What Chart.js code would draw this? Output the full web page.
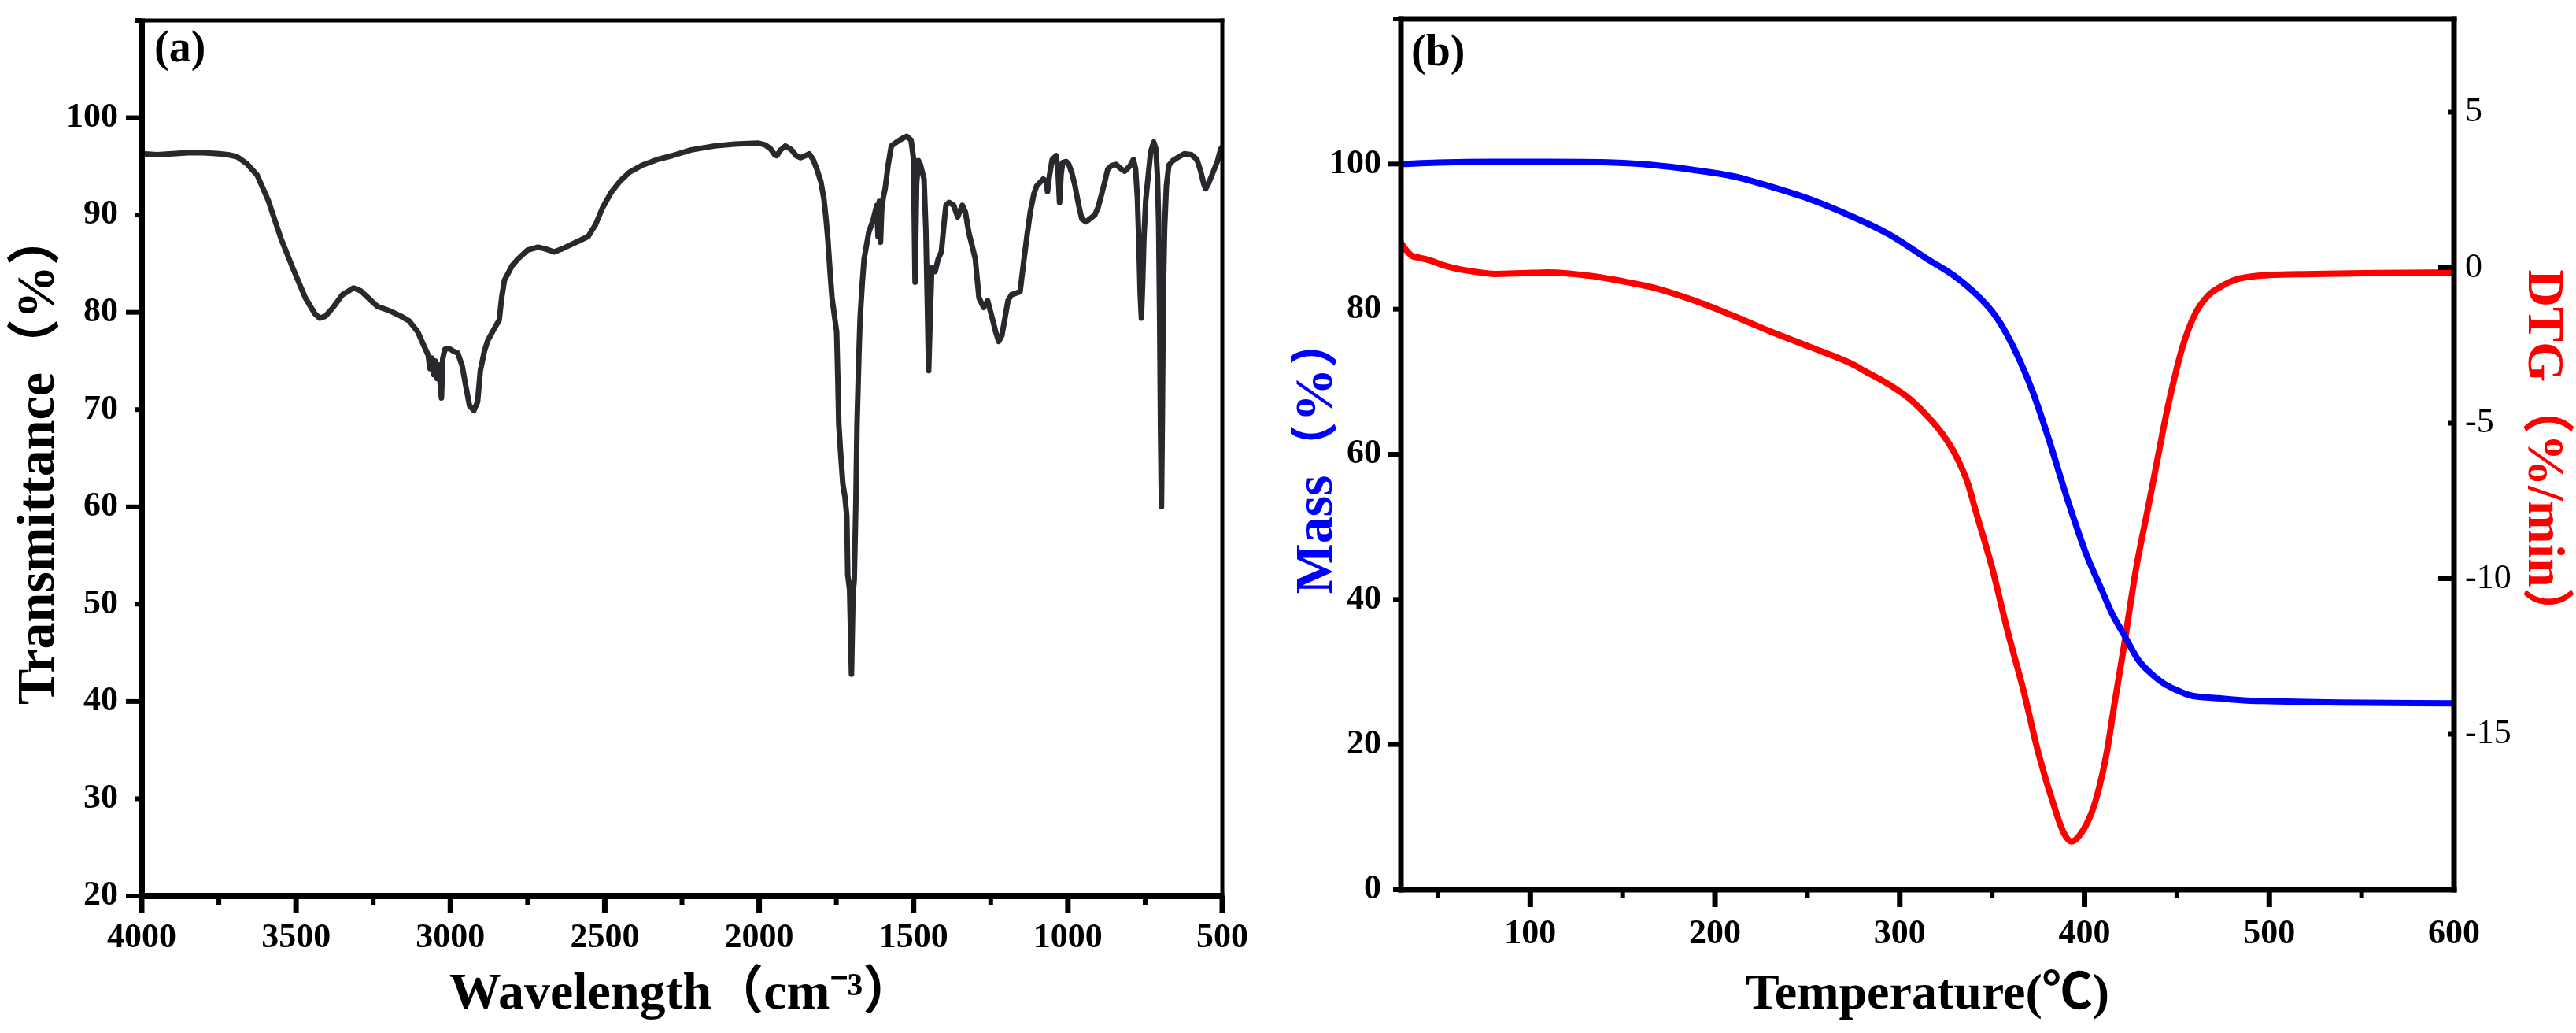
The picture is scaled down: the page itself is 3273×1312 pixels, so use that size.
<!DOCTYPE html>
<html>
<head>
<meta charset="utf-8">
<script src="https://cdn.jsdelivr.net/npm/chart.js@4.4.1/dist/chart.umd.min.js"></script>
<style>
  html, body { margin: 0; padding: 0; background: #fff; }
  #wrap { position: relative; width: 3273px; height: 1312px; overflow: hidden; background: #fff; }
  canvas { position: absolute; top: 0; }
  #ca, #oa { left: 0; }
  #cb, #ob { left: 1640px; }
  #oa, #ob { pointer-events: none; }
</style>
</head>
<body>
<div id="wrap">
  <canvas id="ca" width="1640" height="1312"></canvas>
  <canvas id="cb" width="1633" height="1312"></canvas>
  <canvas id="oa" width="1640" height="1312"></canvas>
  <canvas id="ob" width="1633" height="1312"></canvas>
</div>
<script>
// ---------------- Panel (a): FTIR ----------------
const ftirWavenumber = [4000,3950,3900,3850,3800,3750,3720,3692,3660,3626,3590,3549,3510,3470,3440,3424,3405,3380,3350,3314,3290,3260,3236,3200,3160,3133,3106,3085,3072,3066,3060,3054,3049,3043,3038,3033,3029,3025,3018,3005,2990,2976,2962,2950,2938,2924,2912,2903,2890,2879,2860,2842,2834,2825,2800,2781,2750,2716,2690,2664,2640,2613,2580,2554,2530,2508,2480,2450,2420,2380,2330,2282,2220,2144,2080,2004,1980,1963,1950,1943,1930,1915,1895,1880,1866,1850,1838,1825,1813,1800,1790,1783,1777,1770,1764,1756,1749,1745,1742,1736,1729,1722,1716,1713,1707,1701,1696,1692,1687,1683,1677,1673,1666,1660,1645,1630,1619,1615,1611,1607,1603,1598,1592,1583,1572,1550,1535,1522,1508,1500,1495,1490,1484,1478,1470,1466,1460,1455,1451,1446,1441,1430,1420,1410,1400,1395,1385,1370,1357,1342,1332,1321,1310,1300,1288,1273,1260,1245,1234,1224,1214,1204,1194,1183,1165,1155,1142,1132,1122,1110,1101,1080,1070,1066,1060,1051,1038,1032,1027,1022,1017,1005,997,987,977,965,955,941,925,913,902,892,880,871,858,844,830,816,800,788,781,775,770,766,762,758,754,748,740,732,722,715,710,706,703,700,697,694,691,687,681,673,660,645,623,600,582,570,560,554,545,535,526,515,505,500];
const ftirTransmittance = [96.3,96.2,96.3,96.4,96.4,96.3,96.2,96.0,95.3,94.1,91.5,87.6,84.5,81.5,79.9,79.4,79.6,80.5,81.8,82.5,82.2,81.3,80.6,80.2,79.6,79.1,78.0,76.5,75.6,74.2,75.3,73.6,75.0,73.2,74.6,72.6,71.2,75.2,76.2,76.3,76.0,75.8,74.5,72.4,70.4,69.9,70.8,74.0,76.0,77.1,78.2,79.2,81.5,83.3,84.8,85.5,86.4,86.7,86.5,86.2,86.5,86.9,87.4,87.8,89.0,90.7,92.3,93.5,94.4,95.1,95.7,96.1,96.7,97.1,97.3,97.4,97.2,96.8,96.2,96.1,96.7,97.1,96.7,96.1,95.9,96.1,96.3,95.7,94.7,93.4,91.6,89.5,87.3,84.0,81.5,79.6,78.0,73.0,68.5,65.5,62.4,61.0,59.0,53.0,51.5,42.8,51.0,52.5,60.0,68.5,75.5,79.4,83.0,85.5,88.2,89.6,91.0,87.8,91.4,87.2,90.6,91.8,92.7,95.0,97.1,97.6,97.9,98.1,97.7,95.8,83.1,93.2,95.6,95.2,94.2,93.7,88.5,80.5,74.0,79.5,84.6,84.2,85.5,86.2,89.5,91.0,91.3,91.0,89.8,91.0,90.3,88.2,86.8,85.5,81.5,80.5,81.2,79.4,78.0,77.0,77.6,79.4,81.2,81.8,82.0,82.1,85.5,88.0,90.3,92.2,93.0,93.7,93.4,92.4,94.0,95.7,96.1,94.5,91.3,94.2,95.4,95.5,95.2,94.3,93.0,91.0,89.6,89.3,89.7,90.0,90.8,92.0,93.5,94.7,95.1,95.2,94.8,94.5,95.0,95.7,94.8,91.8,87.0,82.0,79.4,83.0,87.5,91.5,94.0,96.5,97.5,96.8,94.0,89.0,80.0,68.0,60.0,70.0,82.0,88.5,93.0,95.1,95.6,95.9,96.3,96.2,95.7,94.5,93.2,92.7,93.2,94.0,94.7,95.6,96.8,97.0];
const ftirXTicks = [4000,3500,3000,2500,2000,1500,1000,500];
const ftirXMinor = [3750,3250,2750,2250,1750,1250,750];
const ftirYTicks = [20,30,40,50,60,70,80,90,100];
const ftirYMajor = [20,40,60,80,100];
const ftirYMinor = [30,50,70,90,110];

// ---------------- Panel (b): TGA / DTG ----------------
const tgaTemperature = [30,50,80,110,145,165,188,210,230,252,273,295,315,330,344,352,358,365,372,380,391,401,409,415,421,429,436,443,450,457,472,486,496,538,600];
const tgaMass = [100.0,100.2,100.3,100.3,100.2,99.9,99.2,98.3,96.9,95.1,92.9,90.2,86.9,84.5,81.4,79.0,76.5,72.9,68.6,62.6,53.6,46.2,41.5,38.0,35.3,31.7,29.8,28.4,27.5,26.8,26.4,26.1,26.0,25.8,25.7];
const dtgTemperature = [30,33,36,40,46,53,60,70,81,95,110,131,145,152,166,188,210,230,252,273,281,294,306,316,323,330,337,341,350,358,367,375,384,389,393,398,404,408,412,416,421,428,435,440,445,453,460,467,474,482,496,524,560,601];
const dtgRate = [0.8,0.55,0.38,0.32,0.23,0.08,-0.03,-0.13,-0.2,-0.18,-0.15,-0.25,-0.38,-0.46,-0.63,-1.04,-1.55,-2.05,-2.56,-3.06,-3.32,-3.75,-4.25,-4.84,-5.34,-6.0,-6.96,-7.8,-9.65,-11.6,-13.6,-15.6,-17.4,-18.2,-18.45,-18.2,-17.5,-16.7,-15.6,-14.1,-12.3,-9.65,-7.54,-6.0,-4.5,-2.56,-1.47,-0.89,-0.6,-0.38,-0.25,-0.2,-0.17,-0.15];
const tgaXTicks = [100,200,300,400,500,600];
const tgaXMajor = [100,200,300,400,500];
const tgaXMinor = [50,150,250,350,450,550];
const massTicks = [0,20,40,60,80,100];
const massLong = [20,60,100];
const massShort = [0,40,80,120];
const dtgTicks = [-15,-10,-5,0,5];
const dtgLong = [0,-10];
const dtgShort = [5,-5,-15];

const SERIF = "'Liberation Serif', 'Times New Roman', 'Noto Sans CJK SC', serif";
const tickFont = (w) => ({ family: SERIF, size: 44, weight: w, lineHeight: 1 });
const titleFont = (s) => ({ family: SERIF, size: s, weight: 'bold', lineHeight: 1 });
const fmt = (v) => String(v);

// Frame, tick marks and panel letter are drawn on an overlay canvas,
// positioned from the chart's own chartArea and scales.
function drawFrame(chart, overlayId, spec) {
  const cv = document.getElementById(overlayId);
  const ctx = cv.getContext('2d');
  const a = chart.chartArea;
  ctx.clearRect(0, 0, cv.width, cv.height);
  ctx.save();
  ctx.strokeStyle = '#000';
  ctx.fillStyle = '#000';
  const rect = (x, y, w, h) => ctx.fillRect(x, y, w, h);
  const f = spec.frame;
  // left, right, top, bottom borders as filled bars centered on chart edges
  rect(a.left - f.left / 2, a.top - f.top / 2, f.left, (a.bottom - a.top) + f.top / 2 + f.bottom / 2);
  rect(a.right - f.right / 2, a.top - f.top / 2, f.right, (a.bottom - a.top) + f.top / 2 + f.bottom / 2);
  rect(a.left - f.left / 2, a.top - f.top / 2, (a.right - a.left) + f.left / 2 + f.right / 2, f.top);
  rect(a.left - f.left / 2, a.bottom - f.bottom / 2, (a.right - a.left) + f.left / 2 + f.right / 2, f.bottom);
  spec.ticks.forEach((t) => {
    const s = chart.scales[t.scale];
    t.values.forEach((v) => {
      const p = s.getPixelForValue(v);
      if (t.side === 'bottom') rect(p - t.width / 2, a.bottom, t.width, t.len);
      else if (t.side === 'left') rect(a.left - t.len, p - t.width / 2, t.len, t.width);
      else rect(a.right - t.len, p - t.width / 2, t.len, t.width);
    });
  });
  const L = spec.label;
  ctx.font = 'bold ' + L.size + 'px ' + SERIF;
  ctx.textBaseline = 'alphabetic';
  ctx.textAlign = 'left';
  ctx.fillText(L.text, a.left + L.dx, a.top + L.dy);
  ctx.restore();
}

function fixTicks(list) {
  return (s) => { s.ticks = list.map(v => ({ value: v })); };
}

// Chart A
const chartA = new Chart(document.getElementById('ca'), {
  type: 'line',
  data: {
    datasets: [{
      data: ftirWavenumber.map((w, i) => ({ x: w, y: ftirTransmittance[i] })),
      borderColor: '#27292c', borderWidth: 7, pointRadius: 0, tension: 0, fill: false,
      borderJoinStyle: 'round', borderCapStyle: 'round'
    }]
  },
  options: {
    responsive: false, animation: false, devicePixelRatio: 1,
    layout: { padding: { top: 26, right: 87, left: 0, bottom: 0 } },
    plugins: { legend: { display: false }, tooltip: { enabled: false } },
    scales: {
      x: {
        type: 'linear', reverse: true, min: 500, max: 4000,
        afterBuildTicks: fixTicks(ftirXTicks),
        afterFit: (s) => { s.height = 174; s.paddingLeft = 0; s.paddingRight = 0; },
        grid: { display: false, drawTicks: false }, border: { display: false },
        ticks: { font: tickFont('bold'), color: '#000', padding: 32, maxRotation: 0, autoSkip: false, callback: fmt },
        title: { display: true, text: 'Wavelength（cm⁻³）', color: '#000', font: titleFont(66), padding: { top: 0, bottom: 15 } }
      },
      y: {
        type: 'linear', min: 20, max: 110,
        afterBuildTicks: fixTicks(ftirYTicks),
        afterFit: (s) => { s.width = 180; s.paddingTop = 0; s.paddingBottom = 0; },
        grid: { display: false, drawTicks: false }, border: { display: false },
        ticks: { font: tickFont('bold'), color: '#000', padding: 30, autoSkip: false, callback: fmt },
        title: { display: true, text: 'Transmittance（%）', color: '#000', font: titleFont(68), padding: { top: 16, bottom: 0 } }
      }
    }
  }
});

// Chart B
const chartB = new Chart(document.getElementById('cb'), {
  type: 'line',
  data: {
    datasets: [
      {
        data: tgaTemperature.map((t, i) => ({ x: t, y: tgaMass[i] })),
        borderColor: '#0000ff', borderWidth: 8, pointRadius: 0, tension: 0.4, cubicInterpolationMode: 'monotone', fill: false, yAxisID: 'y'
      },
      {
        data: dtgTemperature.map((t, i) => ({ x: t, y: dtgRate[i] })),
        borderColor: '#ff0000', borderWidth: 8, pointRadius: 0, tension: 0.4, cubicInterpolationMode: 'monotone', fill: false, yAxisID: 'y2'
      }
    ]
  },
  options: {
    responsive: false, animation: false, devicePixelRatio: 1,
    layout: { padding: { top: 24, right: 0, left: 0, bottom: 0 } },
    plugins: { legend: { display: false }, tooltip: { enabled: false } },
    scales: {
      x: {
        type: 'linear', min: 30, max: 600,
        afterBuildTicks: fixTicks(tgaXTicks),
        afterFit: (s) => { s.height = 182; s.paddingLeft = 0; s.paddingRight = 0; },
        grid: { display: false, drawTicks: false }, border: { display: false },
        ticks: { font: tickFont('bold'), color: '#000', padding: 35, maxRotation: 0, autoSkip: false, callback: fmt },
        title: { display: true, text: 'Temperature(℃)', color: '#000', font: titleFont(64), padding: { top: 0, bottom: 16 } }
      },
      y: {
        type: 'linear', position: 'left', min: 0, max: 120,
        afterBuildTicks: fixTicks(massTicks),
        afterFit: (s) => { s.width = 140; s.paddingTop = 0; s.paddingBottom = 0; },
        grid: { display: false, drawTicks: false }, border: { display: false },
        ticks: { font: tickFont('bold'), color: '#000', padding: 25, autoSkip: false, callback: fmt },
        title: { display: true, text: 'Mass（%）', color: '#0000ff', font: titleFont(68), padding: { top: 0, bottom: 0 } }
      },
      y2: {
        type: 'linear', position: 'right', min: -20, max: 8,
        afterBuildTicks: fixTicks(dtgTicks),
        afterFit: (s) => { s.width = 155; s.paddingTop = 0; s.paddingBottom = 0; },
        grid: { display: false, drawTicks: false }, border: { display: false },
        ticks: { font: tickFont('normal'), color: '#000', padding: 14, autoSkip: false, callback: fmt },
        title: { display: true, text: 'DTG（%/min）', color: '#ff0000', font: titleFont(66), padding: { top: 10, bottom: 0 } }
      }
    }
  }
});

drawFrame(chartA, 'oa', {
  frame: { left: 8, bottom: 8, top: 5, right: 5 },
  ticks: [
    { scale: 'x', side: 'bottom', values: ftirXTicks, len: 21, width: 7 },
    { scale: 'x', side: 'bottom', values: ftirXMinor, len: 11, width: 6 },
    { scale: 'y', side: 'left', values: ftirYMajor, len: 20, width: 6 },
    { scale: 'y', side: 'left', values: ftirYMinor, len: 9, width: 6 }
  ],
  label: { text: '(a)', size: 56, dx: 16, dy: 52 }
});
drawFrame(chartB, 'ob', {
  frame: { left: 7, bottom: 7, top: 7, right: 7 },
  ticks: [
    { scale: 'x', side: 'bottom', values: tgaXMajor, len: 22, width: 7 },
    { scale: 'x', side: 'bottom', values: tgaXMinor, len: 10, width: 6 },
    { scale: 'y', side: 'left', values: massLong, len: 16, width: 6 },
    { scale: 'y', side: 'left', values: massShort, len: 10, width: 6 },
    { scale: 'y2', side: 'right', values: dtgLong, len: 20, width: 6 },
    { scale: 'y2', side: 'right', values: dtgShort, len: 8, width: 6 }
  ],
  label: { text: '(b)', size: 56, dx: 13, dy: 59 }
});
</script>
</body>
</html>
